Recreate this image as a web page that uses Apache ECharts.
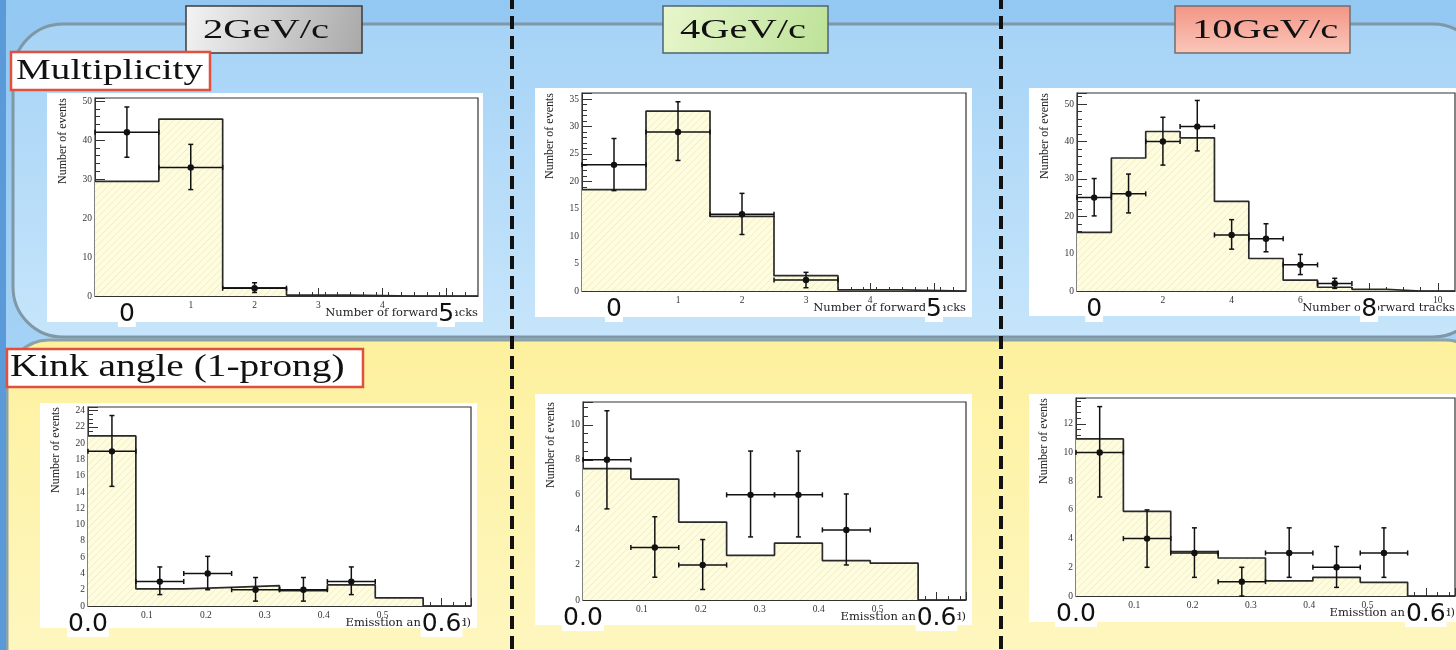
<!DOCTYPE html>
<html><head><meta charset="utf-8">
<script src="https://cdn.jsdelivr.net/npm/echarts@6/dist/echarts.min.js"></script>
<style>html,body{margin:0;padding:0;background:#9acdf5;}#c{width:1456px;height:650px;}</style>
</head><body><div id="c"></div>
<script>
// ---------------- data ----------------
const momenta = ['2GeV/c', '4GeV/c', '10GeV/c'];
const sectionTitles = ['Multiplicity', 'Kink angle (1-prong)'];
const multTitleX = 'Number of forward tracks';
const kinkTitleX = 'Emisstion angle (rad)';
const yTitle = 'Number of events';

const multEdges5 = [-0.5, 0.5, 1.5, 2.5, 3.5, 4.5, 5.5];
const multCentres5 = [0, 1, 2, 3, 4, 5];
const multEdges10 = [-0.5, 0.5, 1.5, 2.5, 3.5, 4.5, 5.5, 6.5, 7.5, 8.5, 9.5, 10.5];
const multCentres10 = [0, 1, 2, 3, 4, 5, 6, 7, 8, 9, 10];
const kinkEdges = [0, 0.08125, 0.1625, 0.24375, 0.325, 0.40625, 0.4875, 0.56875, 0.65];
const kinkCentres = [0.040625, 0.121875, 0.203125, 0.284375, 0.365625, 0.446875, 0.528125, 0.609375];

// simulation (filled histograms)
const mcMult2 = [29.4, 45.4, 2.1, 0.25, 0, 0];
const mcMult4 = [18.5, 32.8, 13.6, 2.8, 0.2, 0];
const mcMult10 = [15.7, 35.6, 42.7, 41.0, 24.0, 8.7, 2.9, 1.0, 0.45, 0, 0];
const mcKink2 = [20.9, 2.1, 2.3, 2.5, 1.9, 2.6, 1.0, 0];
const mcKink4 = [7.5, 6.9, 4.45, 2.55, 3.25, 2.25, 2.1, 0];
const mcKink10 = [10.95, 5.9, 3.1, 2.65, 1.05, 1.3, 0.95, 0];

// measured points with error bars
const dataMult2 = [42, 33, 2];
const dataMult2Lo = [35.6, 27.3, 0.9];
const dataMult2Hi = [48.5, 38.9, 3.4];
const dataMult4 = [23, 29, 14, 2];
const dataMult4Lo = [18.3, 23.8, 10.3, 0.6];
const dataMult4Hi = [27.8, 34.5, 17.8, 3.4];
const dataMult10 = [25, 26, 40, 44, 15, 14, 7, 2];
const dataMult10Lo = [20.1, 20.9, 33.7, 37.5, 11.2, 10.5, 4.4, 0.7];
const dataMult10Hi = [30.1, 31.3, 46.5, 51, 19.1, 18, 9.8, 3.4];
const dataKink2 = [19, 3, 4, 2, 2, 3];
const dataKink2Lo = [14.7, 1.4, 2.0, 0.6, 0.6, 1.4];
const dataKink2Hi = [23.4, 4.8, 6.1, 3.5, 3.5, 4.8];
const dataKink4 = [8, 3, 2, 6, 6, 4];
const dataKink4Lo = [5.2, 1.3, 0.6, 3.6, 3.6, 2.0];
const dataKink4Hi = [10.8, 4.75, 3.45, 8.5, 8.5, 6.05];
const dataKink10 = [10, 4, 3, 1, 3, 2, 3];
const dataKink10Lo = [6.9, 2.0, 1.3, 0, 1.3, 0.6, 1.3];
const dataKink10Hi = [13.2, 6.0, 4.75, 2.0, 4.75, 3.45, 4.75];

// tick labels
const multTicks5 = [0, 1, 2, 3, 4, 5];
const multTicks10 = [0, 2, 4, 6, 8, 10];
const overlayMult5 = [0, 5];
const overlayMult10 = [0, 8];
const overlayKink = [0, 0.6];

// ---------------- layout ----------------
const panels = [
  {g:{left:95, top:98, width:383, height:198}, box:[47,93,436,229], kind:'mult', xmin:-0.5, xmax:5.5, ymax:50.8, yint:10, ysplit:5,
   edges:multEdges5, centres:multCentres5, mc:mcMult2, d:dataMult2, lo:dataMult2Lo, hi:dataMult2Hi, ticks:multTicks5, minorStep:0.2, overlay:overlayMult5},
  {g:{left:582, top:93, width:384, height:198}, box:[535,88,437,229], kind:'mult', xmin:-0.5, xmax:5.5, ymax:36.1, yint:5, ysplit:5,
   edges:multEdges5, centres:multCentres5, mc:mcMult4, d:dataMult4, lo:dataMult4Lo, hi:dataMult4Hi, ticks:multTicks5, minorStep:0.2, overlay:overlayMult5},
  {g:{left:1077, top:93, width:382, height:198}, box:[1029,88,450,228], kind:'mult', xmin:-0.5, xmax:10.5, ymax:53, yint:10, ysplit:5,
   edges:multEdges10, centres:multCentres10, mc:mcMult10, d:dataMult10, lo:dataMult10Lo, hi:dataMult10Hi, ticks:multTicks10, minorStep:0.5, overlay:overlayMult10},
  {g:{left:88, top:407, width:383, height:199}, box:[40,403,437,225], kind:'kink', xmin:0, xmax:0.65, ymax:24.45, yint:2, ysplit:4,
   edges:kinkEdges, centres:kinkCentres, mc:mcKink2, d:dataKink2, lo:dataKink2Lo, hi:dataKink2Hi, overlay:overlayKink},
  {g:{left:583, top:402, width:383, height:198}, box:[535,394,437,231], kind:'kink', xmin:0, xmax:0.65, ymax:11.3, yint:2, ysplit:4,
   edges:kinkEdges, centres:kinkCentres, mc:mcKink4, d:dataKink4, lo:dataKink4Lo, hi:dataKink4Hi, overlay:overlayKink},
  {g:{left:1076, top:398, width:388, height:198}, box:[1029,394,450,228], kind:'kink', xmin:0, xmax:0.65, ymax:13.8, yint:2, ysplit:5,
   edges:kinkEdges, centres:kinkCentres, mc:mcKink10, d:dataKink10, lo:dataKink10Lo, hi:dataKink10Hi, overlay:overlayKink}
];

function hatch() {
  const c = document.createElement('canvas'); c.width = 7; c.height = 7;
  const x = c.getContext('2d');
  x.fillStyle = '#fefcdf'; x.fillRect(0, 0, 7, 7);
  x.strokeStyle = '#f3ecc4'; x.lineWidth = 1;
  x.beginPath(); x.moveTo(0, 7); x.lineTo(7, 0); x.stroke();
  return c;
}
const hatchImg = hatch();

const serif = 'Liberation Serif';
const grid = [], xAxis = [], yAxis = [], series = [];
panels.forEach((p, i) => {
  grid.push(Object.assign({show:true, borderColor:'#333', borderWidth:1.2, backgroundColor:'#fff'}, p.g));
  const base = {gridIndex:i, type:'value', position:'bottom', min:p.xmin, max:p.xmax, splitLine:{show:false}};
  const lab = {fontFamily:serif, fontSize:9.5, color:'#333', margin:4};
  const nameX = {nameLocation:'end', nameGap:0, nameMoveOverlap:false,
    nameTextStyle:{fontFamily:'DejaVu Serif', fontSize:11.5, color:'#222', align:'right', verticalAlign:'top', padding:[11,0,0,0]}};
  const underOverlay = v => p.overlay.some(o => Math.abs(o - v) < 1e-6);
  const mainIdx = xAxis.length;
  if (p.kind === 'mult') {
    xAxis.push(Object.assign({}, base, nameX, {name:multTitleX,
      axisLine:{onZero:false, lineStyle:{color:'#333'}},
      axisTick:{inside:true, length:8, customValues:p.ticks, lineStyle:{color:'#333'}},
      axisLabel:Object.assign({customValues:p.ticks.filter(v => !underOverlay(v))}, lab)}));
    const minors = [];
    for (let k = 1; p.xmin + k * p.minorStep < p.xmax - 1e-9; k++) {
      const v = +(p.xmin + k * p.minorStep).toFixed(4);
      if (p.ticks.indexOf(v) < 0) minors.push(v);
    }
    xAxis.push(Object.assign({}, base, {axisLine:{show:false, onZero:false},
      axisTick:{inside:true, length:4, customValues:minors, lineStyle:{color:'#333'}},
      axisLabel:{show:false}}));
  } else {
    xAxis.push(Object.assign({}, base, nameX, {name:kinkTitleX, interval:0.1,
      axisLine:{onZero:false, lineStyle:{color:'#333'}},
      axisTick:{inside:true, length:8, lineStyle:{color:'#333'}},
      minorTick:{show:true, splitNumber:5, length:4, lineStyle:{color:'#333'}},
      axisLabel:Object.assign({showMaxLabel:false, formatter: v => underOverlay(+v) ? '' : String(+(+v).toFixed(2))}, lab)}));
  }
  xAxis.push(Object.assign({}, base, {z:10, axisLine:{show:false, onZero:false}, axisTick:{show:false},
    axisLabel:{customValues:p.overlay, fontFamily:'DejaVu Sans', fontSize:25, color:'#111',
      backgroundColor:'#fff', padding:[0,1], margin:6,
      formatter: p.kind === 'kink' ? (v => (+v).toFixed(1)) : (v => String(v))}}));
  yAxis.push({gridIndex:i, type:'value', position:'left', min:0, max:p.ymax, interval:p.yint, splitLine:{show:false},
    axisLine:{onZero:false, lineStyle:{color:'#333'}},
    axisTick:{inside:true, length:10, lineStyle:{color:'#333'}},
    minorTick:{show:true, splitNumber:p.ysplit, length:5, lineStyle:{color:'#333'}},
    axisLabel:Object.assign({showMaxLabel:false}, lab, {margin:3}),
    name:yTitle, nameLocation:'end', nameGap:0, nameRotate:90, nameMoveOverlap:false,
    nameTextStyle:{fontFamily:serif, fontSize:12, color:'#222', align:'right', verticalAlign:'bottom', padding:[0,0,26,0]}});

  const pts = p.mc.map((v, k) => [p.edges[k], v]);
  pts.push([p.edges[p.edges.length - 1], p.mc[p.mc.length - 1]]);
  series.push({type:'line', step:'end', xAxisIndex:mainIdx, yAxisIndex:i, data:pts, symbol:'none', z:2,
    lineStyle:{color:'#2a2a2a', width:1.7},
    areaStyle:{color:{image:hatchImg, repeat:'repeat'}, opacity:1}});
  const ed = p.d.map((v, k) => [p.centres[k], v, p.lo[k], p.hi[k], p.edges[k], p.edges[k + 1]]);
  series.push({type:'custom', xAxisIndex:mainIdx, yAxisIndex:i, data:ed, z:5, encode:{x:0, y:1},
    renderItem(params, api) {
      const c = api.coord([api.value(0), api.value(1)]);
      const t = api.coord([api.value(0), api.value(3)]);
      const b = api.coord([api.value(0), api.value(2)]);
      const l = api.coord([api.value(4), api.value(1)]);
      const r = api.coord([api.value(5), api.value(1)]);
      const st = {stroke:'#111', lineWidth:1.5};
      const cap = 2.5;
      return {type:'group', children:[
        {type:'line', shape:{x1:c[0], y1:t[1], x2:c[0], y2:b[1]}, style:st},
        {type:'line', shape:{x1:c[0]-cap, y1:t[1], x2:c[0]+cap, y2:t[1]}, style:st},
        {type:'line', shape:{x1:c[0]-cap, y1:b[1], x2:c[0]+cap, y2:b[1]}, style:st},
        {type:'line', shape:{x1:l[0], y1:c[1], x2:r[0], y2:c[1]}, style:st},
        {type:'line', shape:{x1:l[0], y1:c[1]-cap, x2:l[0], y2:c[1]+cap}, style:st},
        {type:'line', shape:{x1:r[0], y1:c[1]-cap, x2:r[0], y2:c[1]+cap}, style:st},
        {type:'circle', shape:{cx:c[0], cy:c[1], r:3.2}, style:{fill:'#111'}}
      ]};
    }});
});

// ---------------- slide decoration ----------------
const LG = echarts.graphic.LinearGradient;
const els = [
  {type:'rect', z:-100, shape:{x:0, y:0, width:1456, height:650}, style:{fill:new LG(0,0,0,1,[{offset:0,color:'#93c8f2'},{offset:1,color:'#b4dbf8'}])}},
  {type:'rect', z:-95, shape:{x:13, y:24, width:1470, height:313, r:50}, style:{fill:new LG(0,0,0,1,[{offset:0,color:'#a6d3f6'},{offset:1,color:'#c6e5fb'}]), stroke:'#7e98a6', lineWidth:3}},
  {type:'rect', z:-94, shape:{x:7, y:340, width:1480, height:360, r:42}, style:{fill:new LG(0,0,0,1,[{offset:0,color:'#fdf19e'},{offset:1,color:'#fef7c4'}]), stroke:'#8da2a8', lineWidth:3}},
  {type:'rect', z:-90, shape:{x:0, y:0, width:6, height:650}, style:{fill:'#5b9ad8'}}
];
panels.forEach(p => els.push({type:'rect', z:-50, shape:{x:p.box[0], y:p.box[1], width:p.box[2], height:p.box[3]}, style:{fill:'#ffffff'}}));
[512, 1001].forEach(x => els.push({type:'line', z:50, shape:{x1:x, y1:-4, x2:x, y2:654}, style:{stroke:'#111', lineWidth:4, lineDash:[13,7]}}));
const headerBoxes = [
  {shape:[186,6,176,47], fill:new LG(0,0,1,1,[{offset:0,color:'#f4f4f4'},{offset:1,color:'#a8a8a8'}]), stroke:'#3c3c3c', tx:203},
  {shape:[663,6,165,47], fill:new LG(0,0,1,1,[{offset:0,color:'#e8f6cc'},{offset:1,color:'#bde298'}]), stroke:'#4e6474', tx:680},
  {shape:[1175,6,175,47], fill:new LG(0,0,0,1,[{offset:0,color:'#f39585'},{offset:1,color:'#fac7ba'}]), stroke:'#6f6f6f', tx:1192}
];
headerBoxes.forEach((h, i) => {
  els.push({type:'rect', z:55, shape:{x:h.shape[0], y:h.shape[1], width:h.shape[2], height:h.shape[3]}, style:{fill:h.fill, stroke:h.stroke, lineWidth:1.5}});
  els.push({type:'text', z:56, x:h.tx, y:31, scaleX:1.5, style:{text:momenta[i], font:'27px "Liberation Serif"', fill:'#111', align:'left', verticalAlign:'middle', textAlign:'left', textVerticalAlign:'middle'}});
});
const secBoxes = [
  {shape:[11,52,199,38], tx:16, ty:71, size:29, sx:1.35},
  {shape:[7,349,356,38], tx:10, ty:368, size:31, sx:1.27}
];
secBoxes.forEach((s, i) => {
  els.push({type:'rect', z:55, shape:{x:s.shape[0], y:s.shape[1], width:s.shape[2], height:s.shape[3]}, style:{fill:'#ffffff', stroke:'#e0503c', lineWidth:2.5}});
  els.push({type:'text', z:56, x:s.tx, y:s.ty, scaleX:s.sx, style:{text:sectionTitles[i], font:s.size + 'px "Liberation Serif"', fill:'#111', align:'left', verticalAlign:'middle', textAlign:'left', textVerticalAlign:'middle'}});
});

const chart = echarts.init(document.getElementById('c'), null, {renderer:'canvas'});
chart.setOption({animation:false, graphic:{elements:els}, grid, xAxis, yAxis, series});
</script></body></html>
